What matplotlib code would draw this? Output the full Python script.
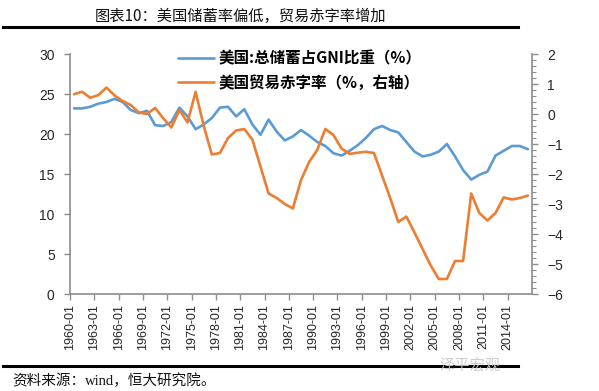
import matplotlib
matplotlib.use("Agg")
import matplotlib.pyplot as plt
from matplotlib.ticker import MultipleLocator
import numpy as np

plt.rcParams['font.family'] = ['Noto Sans CJK SC', 'DejaVu Sans']

years = list(range(1960, 2017))

savings = [23.2, 23.2, 23.4, 23.8, 24.0, 24.4, 24.0, 23.0, 22.6, 22.9,
           21.1, 21.0, 21.5, 23.3, 22.2, 20.6, 21.2, 22.0, 23.3, 23.4,
           22.2, 23.1, 21.2, 19.9, 21.8, 20.3, 19.2, 19.7, 20.5, 19.8,
           19.0, 18.5, 17.6, 17.3, 17.9, 18.6, 19.5, 20.6, 21.0, 20.5,
           20.2, 19.0, 17.8, 17.2, 17.4, 17.8, 18.75, 17.2, 15.5, 14.3,
           14.9, 15.3, 17.3, 17.9, 18.5, 18.5, 18.1]

deficit = [0.66, 0.74, 0.54, 0.63, 0.88, 0.62, 0.43, 0.30, 0.05, 0.0,
           0.20, -0.14, -0.45, 0.13, -0.28, 0.74, -0.40, -1.35, -1.30, -0.80,
           -0.55, -0.50, -0.85, -1.75, -2.65, -2.80, -3.00, -3.15, -2.20, -1.60,
           -1.20, -0.50, -0.70, -1.15, -1.33, -1.29, -1.26, -1.30, -2.05, -2.80,
           -3.60, -3.42, -3.95, -4.50, -5.05, -5.50, -5.50, -4.90, -4.90, -2.65,
           -3.30, -3.55, -3.30, -2.78, -2.85, -2.80, -2.72]

tick_years = list(range(1960, 2017, 3))
tick_labels = [f"{y}-01" for y in tick_years]

title = "图表10：美国储蓄率偏低，贸易赤字率增加"
label_sav = "美国:总储蓄占GNI比重（%）"
label_def = "美国贸易赤字率（%，右轴）"
source_lead = "资料来源："
source_rest = "wind，恒大研究院。"

BLUE = "#5B9BD5"
ORANGE = "#ED7D31"
GRAY = "#8C8C8C"
TXT = "#262626"

W, H = 599, 391
fig = plt.figure(figsize=(W / 100, H / 100), dpi=100)
fig.patch.set_facecolor("white")

def fx(px):
    return px / W

def fy(py):
    return 1 - py / H

ax = fig.add_axes([fx(70), fy(294), fx(532) - fx(70), fy(54) - fy(294)])
ax2 = ax.twinx()

xpos = [y - 1960 + 0.5 for y in years]
l1, = ax.plot(xpos, savings, color=BLUE, lw=1.9, solid_joinstyle="round", solid_capstyle="round")
l2, = ax2.plot(xpos, deficit, color=ORANGE, lw=1.9, solid_joinstyle="round", solid_capstyle="round")

ax.set_xlim(0, len(years))
ax.set_ylim(0, 30)
ax2.set_ylim(-6, 2)
ax.yaxis.set_major_locator(MultipleLocator(5))
ax2.yaxis.set_major_locator(MultipleLocator(1))
ax2.yaxis.set_minor_locator(MultipleLocator(0.2))

ax.set_xticks([y - 1960 for y in tick_years])
ax.set_xticklabels(tick_labels, rotation=90, fontsize=9, family="Liberation Sans", color=TXT)

for a in (ax, ax2):
    for s in a.spines.values():
        s.set_color(GRAY)
        s.set_linewidth(1.2)
    a.spines["top"].set_visible(False)

ax.spines["right"].set_visible(False)
ax2.spines["left"].set_visible(False)
ax2.spines["bottom"].set_visible(False)

ax.tick_params(axis="x", direction="out", length=4, width=1, color=GRAY, pad=3)
ax.tick_params(axis="y", direction="out", length=4, width=1, color=GRAY, pad=7, labelsize=10, labelcolor=TXT)
ax2.tick_params(axis="y", which="major", direction="out", length=4, width=1, color=GRAY, pad=7, labelsize=10, labelcolor=TXT)
ax2.tick_params(axis="y", which="minor", direction="out", length=3, width=0.8, color=GRAY)
for lab in ax.get_yticklabels() + ax2.get_yticklabels():
    lab.set_family("Liberation Sans")

leg = fig.legend([l1, l2], [label_sav, label_def], loc="upper left",
                 bbox_to_anchor=(fx(178), fy(50)), bbox_transform=fig.transFigure,
                 frameon=False, borderpad=0, borderaxespad=0,
                 handlelength=2.3, handletextpad=0.3, labelspacing=0.55,
                 prop={"size": 11.2, "weight": "bold", "family": ["Noto Sans CJK SC", "DejaVu Sans"]})

# title and rules
fig.text(fx(95), fy(16), title, fontsize=11, ha="left", va="center", color="#111111")
fig.add_artist(plt.Line2D([fx(3), fx(518)], [fy(27), fy(27)], color="black", lw=2.2, transform=fig.transFigure))
fig.add_artist(plt.Line2D([fx(3), fx(518)], [fy(366), fy(366)], color="black", lw=2.2, transform=fig.transFigure))

t1 = fig.text(fx(12), fy(381), source_lead, fontsize=10.5, ha="left", va="center", style="italic", color="#111111")
fig.canvas.draw()
bb = t1.get_window_extent()
fig.text(bb.x1 / W, fy(381), source_rest, fontsize=10.5, ha="left", va="center", color="#111111",
         family=["Liberation Serif", "Noto Sans CJK SC"])

fig.text(fx(470), fy(366), "泽平宏观", fontsize=11, ha="center", va="center", color="#C8C8C8", alpha=0.9)

fig.savefig("out.png", dpi=100, facecolor="white")
